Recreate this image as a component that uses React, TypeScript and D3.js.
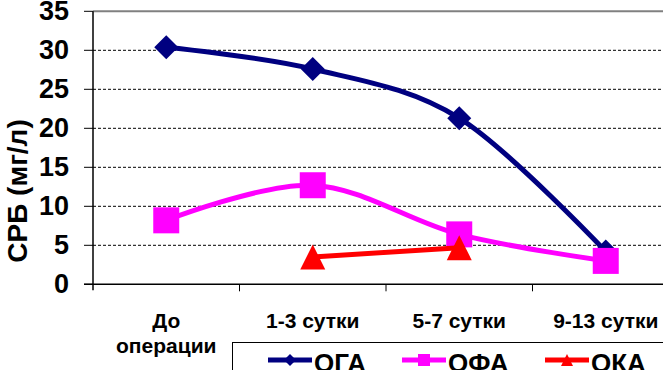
import React from 'react';
import * as d3 from 'd3';

const categories = ['До операции', '1-3 сутки', '5-7 сутки', '9-13 сутки'];
const ogaValues: (number | null)[] = [30.4, 27.6, 21.3, 4.2];
const ofaValues: (number | null)[] = [8.2, 12.7, 6.4, 3.0];
const okaValues: (number | null)[] = [null, 3.5, 4.7, null];
const yTicks = [0, 5, 10, 15, 20, 25, 30, 35];

const series = [
  { name: 'ОГА', values: ogaValues, color: '#000080', marker: 'diamond' },
  { name: 'ОФА', values: ofaValues, color: '#FF00FF', marker: 'square' },
  { name: 'ОКА', values: okaValues, color: '#FF0000', marker: 'triangle' },
];

const W = 663;
const H = 370;
const font = '"Liberation Sans", Arial, sans-serif';

const markerPath = (type: string, s: number) => {
  // s = half size
  if (type === 'diamond') return `M0,${-s}L${s},0L0,${s}L${-s},0Z`;
  if (type === 'square') return `M${-s},${-s}H${s}V${s}H${-s}Z`;
  return `M0,${-s}L${s},${s}L${-s},${s}Z`;
};

const App = () => {
  const left = 93;
  const x = d3.scaleBand<string>().domain(categories).range([left, 679]).padding(0);
  const y = d3.scaleLinear().domain([0, 35]).range([284.3, 11.3]);
  const cx = (c: string) => (x(c) as number) + x.bandwidth() / 2;

  const line = d3
    .line<[string, number | null]>()
    .defined((d) => d[1] !== null)
    .x((d) => cx(d[0]))
    .y((d) => y(d[1] as number))
    .curve(d3.curveCardinal.tension(0));

  const markerSize: Record<string, number> = { diamond: 12, square: 13, triangle: 12.5 };

  return (
    <svg
      width={W}
      height={H}
      style={{ position: 'fixed', left: 0, top: 0, background: '#fff' }}
      fontFamily={font}
      fontWeight="bold"
    >
      {/* grid */}
      {yTicks.filter((t) => t > 0 && t < 35).map((t) => (
        <line key={t} x1={left} x2={W} y1={y(t)} y2={y(t)} stroke="#000" strokeWidth={1} strokeDasharray="3,2" />
      ))}
      <line x1={left} x2={W} y1={y(35)} y2={y(35)} stroke="#808080" strokeWidth={2} />
      {/* axes */}
      <line x1={left} x2={left} y1={y(35)} y2={y(0) + 6} stroke="#000" strokeWidth={1.5} />
      <line x1={84} x2={W} y1={y(0)} y2={y(0)} stroke="#000" strokeWidth={1.5} />
      {yTicks.map((t) => (
        <g key={t}>
          <line x1={84} x2={left} y1={y(t)} y2={y(t)} stroke="#000" strokeWidth={1} />
          <text x={69} y={y(t)} textAnchor="end" dominantBaseline="central" fontSize={27}>
            {t}
          </text>
        </g>
      ))}
      {categories.slice(1).map((c) => (
        <line key={c} x1={x(c)} x2={x(c)} y1={y(0)} y2={y(0) + 7} stroke="#000" strokeWidth={1} />
      ))}
      {/* x labels */}
      {categories.map((c) => {
        const parts = c === 'До операции' ? ['До', 'операции'] : [c];
        return (
          <text key={c} x={cx(c)} y={328} textAnchor="middle" fontSize={21}>
            {parts.map((p, i) => (
              <tspan key={p} x={cx(c)} dy={i === 0 ? 0 : 25}>
                {p}
              </tspan>
            ))}
          </text>
        );
      })}
      {/* y title */}
      <text transform={`translate(27,191) rotate(-90)`} textAnchor="middle" fontSize={28}>
        СРБ (мг/л)
      </text>
      {/* series */}
      {series.map((s) => {
        const pts = categories.map((c, i) => [c, s.values[i]] as [string, number | null]);
        return (
          <g key={s.name}>
            <path d={line(pts) || ''} fill="none" stroke={s.color} strokeWidth={5} />
            {pts
              .filter((p) => p[1] !== null)
              .map((p) => (
                <path
                  key={p[0]}
                  transform={`translate(${cx(p[0])},${y(p[1] as number)})`}
                  d={markerPath(s.marker, markerSize[s.marker])}
                  fill={s.color}
                />
              ))}
          </g>
        );
      })}
      {/* legend */}
      <rect x={232.5} y={342.5} width={500} height={100} fill="#fff" stroke="#000" strokeWidth={1} />
      {series.map((s, i) => {
        const lx = [268, 402, 545][i];
        return (
          <g key={s.name}>
            <line x1={lx} x2={lx + 44} y1={360} y2={360} stroke={s.color} strokeWidth={5} />
            <path transform={`translate(${lx + 22},360)`} d={markerPath(s.marker, 6)} fill={s.color} />
            <text x={lx + 46} y={372} fontSize={26}>
              {s.name}
            </text>
          </g>
        );
      })}
    </svg>
  );
};

export default App;
